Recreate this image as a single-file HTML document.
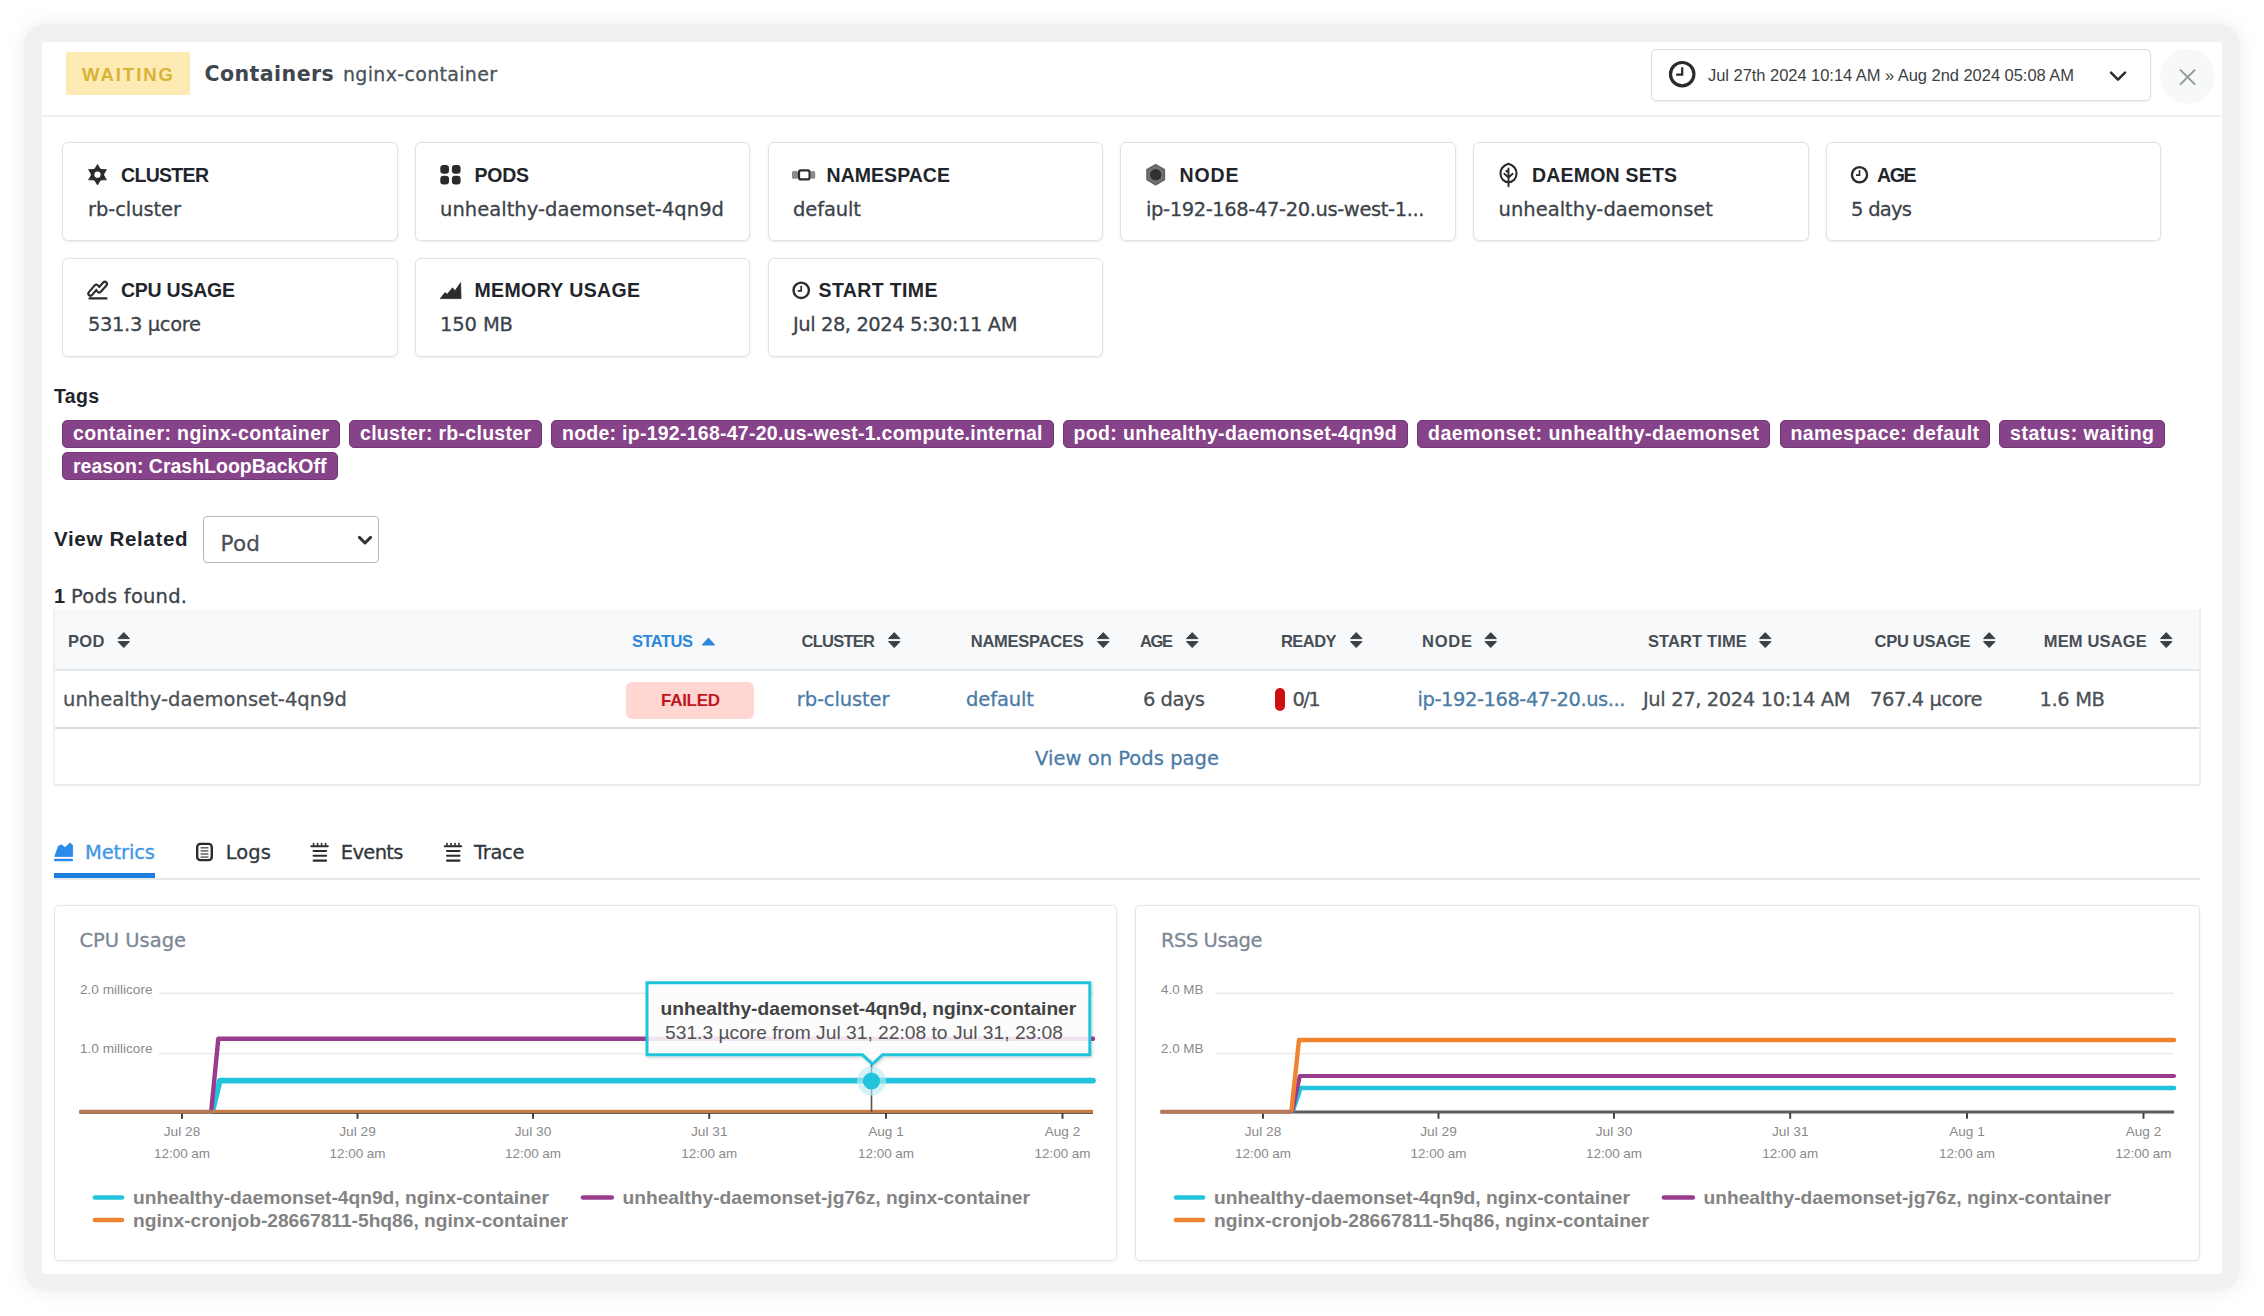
<!DOCTYPE html>
<html lang="en"><head><meta charset="utf-8"><title>Containers nginx-container</title>
<style>
html,body{margin:0;padding:0}
body{width:2264px;height:1316px;position:relative;overflow:hidden;background:#fff;font-family:"DejaVu Sans","Liberation Sans",sans-serif}
.abs,.t,.box{position:absolute}
.t{white-space:pre;line-height:1}
.frame{left:24px;top:24px;width:2215.5px;height:1267px;background:#f0f2f2;border-radius:22px;box-shadow:0 0 16px 5px rgba(100,110,110,.075)}
.panel{left:41.5px;top:42px;width:2180px;height:1232px;background:#fff;border-radius:3px}
.hline{left:42px;top:115px;width:2179px;height:2px;background:#eceeef}
.badge-wait{left:66px;top:52px;width:124px;height:43px;background:#fdebb3;border-radius:2px}
.timebox{left:1651px;top:49px;width:499.5px;height:51.5px;border:1.5px solid #dcdfe1;border-radius:5px;box-sizing:border-box;box-shadow:0 1px 2px rgba(0,0,0,.06);background:#fff}
.closebtn{left:2160px;top:49px;width:55px;height:55px;border-radius:50%;background:#f7f8f8}
.card{width:335.5px;height:99px;border:1.5px solid #dfe2e4;border-radius:6px;box-sizing:border-box;background:#fff;box-shadow:0 1px 3px rgba(0,0,0,.07)}
.tag{height:28.5px;background:#874389;border-radius:5px;border:1.6px solid #6f3a74;box-sizing:border-box}
.select{left:203px;top:516px;width:176px;height:47px;border:1.8px solid #b4b8bc;border-radius:4px;box-sizing:border-box;background:#fff}
.thead{left:54px;top:609px;width:2146px;height:60px;background:#f7f9fa}
.tline{left:54px;width:2146px;height:2px;background:#e4e7e9}
.failed{left:626px;top:682px;width:128px;height:37px;background:#ffd6d2;border-radius:6px}
.pill{left:1275px;top:687.5px;width:10px;height:23.5px;background:#cc0f0f;border-radius:5px}
.tabline{left:54px;top:878px;width:2146px;height:2px;background:#e6e8ea}
.tabactive{left:54px;top:873.3px;width:101px;height:4.8px;background:#1a7fe0}
.chartcard{top:904.5px;height:356px;border:1.5px solid #e3e5e7;border-radius:5px;box-sizing:border-box;background:#fff;box-shadow:0 1px 3px rgba(0,0,0,.06)}
svg{position:absolute;overflow:visible}

.dj{-webkit-text-stroke:0.28px currentColor}

</style></head>
<body>
<div class="box frame"></div>
<div class="box panel"></div>
<div class="box hline"></div>
<div class="box badge-wait"></div>
<div class="box timebox"></div>
<div class="box closebtn"></div>
<div class="box card" style="left:62.20px;top:142px"></div>
<div class="box card" style="left:414.95px;top:142px"></div>
<div class="box card" style="left:767.70px;top:142px"></div>
<div class="box card" style="left:1120.45px;top:142px"></div>
<div class="box card" style="left:1473.20px;top:142px"></div>
<div class="box card" style="left:1825.95px;top:142px"></div>
<div class="box card" style="left:62.20px;top:258px"></div>
<div class="box card" style="left:414.95px;top:258px"></div>
<div class="box card" style="left:767.70px;top:258px"></div>
<div class="box tag" style="left:62.0px;top:419.5px;width:278.0px"></div>
<div class="box tag" style="left:349.0px;top:419.5px;width:193.0px"></div>
<div class="box tag" style="left:551.0px;top:419.5px;width:502.5px"></div>
<div class="box tag" style="left:1062.5px;top:419.5px;width:345.2px"></div>
<div class="box tag" style="left:1417.0px;top:419.5px;width:353.0px"></div>
<div class="box tag" style="left:1779.5px;top:419.5px;width:210.5px"></div>
<div class="box tag" style="left:1999.0px;top:419.5px;width:166.0px"></div>
<div class="box tag" style="left:62.0px;top:451.8px;width:275.5px"></div>
<div class="box select"></div>
<div class="box thead"></div>
<div class="box tline" style="top:669px"></div>
<div class="box tline" style="top:727px;height:1.5px;background:#dcdfe2"></div>
<div class="box tline" style="top:784px;background:#e9ebed"></div>
<div class="box" style="left:53px;top:609px;width:1.5px;height:176px;background:#eef0f2"></div>
<div class="box" style="left:2199px;top:609px;width:1.5px;height:176px;background:#eef0f2"></div>
<div class="box failed"></div>
<div class="box pill"></div>
<div class="box tabline"></div>
<div class="box tabactive"></div>
<div class="box chartcard" style="left:54px;width:1063px"></div>
<div class="box chartcard" style="left:1135px;width:1065px"></div>
<svg class="abs" style="left:0;top:0" width="2264" height="1316" viewBox="0 0 2264 1316">
<circle cx="97.5" cy="174.7" r="4.9" fill="none" stroke="#2b2b2b" stroke-width="3.6"/>
<polygon points="100.20,169.10 97.50,164.40 94.80,169.10" fill="#2b2b2b" stroke="#2b2b2b" stroke-width="0.8" stroke-linejoin="round"/>
<polygon points="103.70,174.24 106.42,169.55 101.00,169.56" fill="#2b2b2b" stroke="#2b2b2b" stroke-width="0.8" stroke-linejoin="round"/>
<polygon points="101.00,179.84 106.42,179.85 103.70,175.16" fill="#2b2b2b" stroke="#2b2b2b" stroke-width="0.8" stroke-linejoin="round"/>
<polygon points="94.80,180.30 97.50,185.00 100.20,180.30" fill="#2b2b2b" stroke="#2b2b2b" stroke-width="0.8" stroke-linejoin="round"/>
<polygon points="91.30,175.16 88.58,179.85 94.00,179.84" fill="#2b2b2b" stroke="#2b2b2b" stroke-width="0.8" stroke-linejoin="round"/>
<polygon points="94.00,169.56 88.58,169.55 91.30,174.24" fill="#2b2b2b" stroke="#2b2b2b" stroke-width="0.8" stroke-linejoin="round"/>
<rect x="440.3" y="165.0" width="8.7" height="8.7" rx="3.2" fill="#2b2b2b"/>
<rect x="451.9" y="165.0" width="8.7" height="8.7" rx="3.2" fill="#2b2b2b"/>
<rect x="440.3" y="175.7" width="8.7" height="8.7" rx="3.2" fill="#2b2b2b"/>
<rect x="451.9" y="175.7" width="8.7" height="8.7" rx="3.2" fill="#2b2b2b"/>
<rect x="792" y="171" width="6" height="7.8" rx="1.5" fill="#8c8c8c"/>
<rect x="810.6" y="171" width="4.6" height="7.8" rx="1.5" fill="#8c8c8c"/>
<rect x="799" y="170.4" width="10.6" height="9" rx="2" fill="#fff" stroke="#2b2b2b" stroke-width="2.2"/>
<polygon points="1155.70,164.50 1164.53,169.60 1164.53,179.80 1155.70,184.90 1146.87,179.80 1146.87,169.60" fill="#707070" stroke="#5e5e5e" stroke-width="1.2" stroke-linejoin="round"/>
<circle cx="1155.7" cy="174.7" r="5.6" fill="#303030"/>
<path d="M1508.5 163.8 C1514 165.6 1516.5 169.3 1516.5 173.6 C1516.5 178.6 1513 182.3 1508.5 182.3 C1504 182.3 1500.5 178.6 1500.5 173.6 C1500.5 169.3 1503 165.6 1508.5 163.8 Z" fill="none" stroke="#2b2b2b" stroke-width="2.1" stroke-linejoin="round"/>
<path d="M1508.5 168.5 V186.3 M1508.5 177.5 L1504.3 173.8 M1508.5 177.5 L1512.7 173.8 M1508.5 172.8 L1506.3 170.8" fill="none" stroke="#2b2b2b" stroke-width="1.9" stroke-linecap="round"/>
<circle cx="1859.5" cy="174.7" r="7.6" fill="none" stroke="#2b2b2b" stroke-width="2.4"/>
<path d="M1859.5 170.2 V175.2 H1856.0" fill="none" stroke="#2b2b2b" stroke-width="1.7"/>
<circle cx="801.2" cy="290.3" r="7.7" fill="none" stroke="#2b2b2b" stroke-width="2.4"/>
<path d="M801.2 285.8 V290.8 H797.7" fill="none" stroke="#2b2b2b" stroke-width="1.7"/>
<circle cx="1682.2" cy="74.2" r="11.7" fill="none" stroke="#2b2b2b" stroke-width="3.2"/>
<path d="M1682.2 67.2 V74.7 H1676.2" fill="none" stroke="#2b2b2b" stroke-width="2.2"/>
<polyline points="90.5,293.5 96.3,286.8 99.2,290.3 104.8,284" fill="none" stroke="#2b2b2b" stroke-width="6.4" stroke-linecap="round" stroke-linejoin="round"/>
<polyline points="90.5,293.5 96.3,286.8 99.2,290.3 104.8,284" fill="none" stroke="#fff" stroke-width="2.2" stroke-linecap="round" stroke-linejoin="round"/>
<path d="M89.5 298.4 H106.5" stroke="#2b2b2b" stroke-width="2.2" stroke-linecap="round"/>
<polygon points="440.3,298.6 445,292.6 447.2,294.3 452.6,287.8 455,290.8 460.6,282.7 461,298.6" fill="#2b2b2b" stroke="#2b2b2b" stroke-width="0.8" stroke-linejoin="round"/>
<path d="M2111 72.6 L2118 79.6 L2125 72.6" fill="none" stroke="#2b2b2b" stroke-width="2.5" stroke-linecap="round" stroke-linejoin="round"/>
<path d="M2180.6 70.2 L2194.6 84.2 M2194.6 70.2 L2180.6 84.2" fill="none" stroke="#92979b" stroke-width="1.9" stroke-linecap="round"/>
<path d="M359.4 537.4 L365 543 L370.6 537.4" fill="none" stroke="#333" stroke-width="3" stroke-linecap="round" stroke-linejoin="round"/>
<path d="M118.0 638.6 L123.8 632.6 L129.5 638.6 Z M118.0 641.6 L123.8 647.6 L129.5 641.6 Z" fill="#3a4047" stroke="#3a4047" stroke-width="1" stroke-linejoin="round"/>
<path d="M888.5 638.6 L894.2 632.6 L900.0 638.6 Z M888.5 641.6 L894.2 647.6 L900.0 641.6 Z" fill="#3a4047" stroke="#3a4047" stroke-width="1" stroke-linejoin="round"/>
<path d="M1097.5 638.6 L1103.2 632.6 L1109.0 638.6 Z M1097.5 641.6 L1103.2 647.6 L1109.0 641.6 Z" fill="#3a4047" stroke="#3a4047" stroke-width="1" stroke-linejoin="round"/>
<path d="M1186.5 638.6 L1192.2 632.6 L1198.0 638.6 Z M1186.5 641.6 L1192.2 647.6 L1198.0 641.6 Z" fill="#3a4047" stroke="#3a4047" stroke-width="1" stroke-linejoin="round"/>
<path d="M1350.5 638.6 L1356.2 632.6 L1362.0 638.6 Z M1350.5 641.6 L1356.2 647.6 L1362.0 641.6 Z" fill="#3a4047" stroke="#3a4047" stroke-width="1" stroke-linejoin="round"/>
<path d="M1485.0 638.6 L1490.8 632.6 L1496.5 638.6 Z M1485.0 641.6 L1490.8 647.6 L1496.5 641.6 Z" fill="#3a4047" stroke="#3a4047" stroke-width="1" stroke-linejoin="round"/>
<path d="M1759.5 638.6 L1765.2 632.6 L1771.0 638.6 Z M1759.5 641.6 L1765.2 647.6 L1771.0 641.6 Z" fill="#3a4047" stroke="#3a4047" stroke-width="1" stroke-linejoin="round"/>
<path d="M1983.5 638.6 L1989.2 632.6 L1995.0 638.6 Z M1983.5 641.6 L1989.2 647.6 L1995.0 641.6 Z" fill="#3a4047" stroke="#3a4047" stroke-width="1" stroke-linejoin="round"/>
<path d="M2160.5 638.6 L2166.2 632.6 L2172.0 638.6 Z M2160.5 641.6 L2166.2 647.6 L2172.0 641.6 Z" fill="#3a4047" stroke="#3a4047" stroke-width="1" stroke-linejoin="round"/>
<path d="M702.6 644.9 L708.5 638.3 L714.4 644.9 Z" fill="#2c87d8" stroke="#2c87d8" stroke-width="1.2" stroke-linejoin="round"/>
<path d="M54.8 856.5 L58.3 846.3 L61.5 844.8 L65 847.6 L70 842.9 L72.6 845.2 L72.6 856.5 Z" fill="#2b8be8" stroke="#2b8be8" stroke-width="0.8" stroke-linejoin="round"/>
<rect x="54" y="858.8" width="19" height="2.5" rx="1" fill="#2b8be8"/>
<rect x="197.2" y="843.9" width="14.6" height="16.2" rx="3.2" fill="none" stroke="#2b2b2b" stroke-width="2.4"/>
<path d="M200.6 847.8 H208.4" stroke="#555" stroke-width="1.4"/>
<path d="M200.6 850.9 H208.4" stroke="#555" stroke-width="1.4"/>
<path d="M200.6 854.0 H208.4" stroke="#555" stroke-width="1.4"/>
<path d="M200.6 857.1 H208.4" stroke="#555" stroke-width="1.4"/>
<path d="M311.4 846.2 H327.8" stroke="#2b2b2b" stroke-width="2.05" stroke-linecap="round"/>
<path d="M313.6 843.6 V845" stroke="#2b2b2b" stroke-width="1.6" stroke-linecap="round"/>
<path d="M317.6 843.6 V845" stroke="#2b2b2b" stroke-width="1.6" stroke-linecap="round"/>
<path d="M321.6 843.6 V845" stroke="#2b2b2b" stroke-width="1.6" stroke-linecap="round"/>
<path d="M325.6 843.6 V845" stroke="#2b2b2b" stroke-width="1.6" stroke-linecap="round"/>
<path d="M313.6 851.0 H326.1" stroke="#2b2b2b" stroke-width="2.05" stroke-linecap="round"/>
<path d="M313.6 855.8 H326.1" stroke="#2b2b2b" stroke-width="2.05" stroke-linecap="round"/>
<path d="M313.6 860.6 H326.1" stroke="#2b2b2b" stroke-width="2.05" stroke-linecap="round"/>
<path d="M444.8 846.2 H461.2" stroke="#2b2b2b" stroke-width="2.05" stroke-linecap="round"/>
<path d="M447.0 843.6 V845" stroke="#2b2b2b" stroke-width="1.6" stroke-linecap="round"/>
<path d="M451.0 843.6 V845" stroke="#2b2b2b" stroke-width="1.6" stroke-linecap="round"/>
<path d="M455.0 843.6 V845" stroke="#2b2b2b" stroke-width="1.6" stroke-linecap="round"/>
<path d="M459.0 843.6 V845" stroke="#2b2b2b" stroke-width="1.6" stroke-linecap="round"/>
<path d="M447.0 851.0 H459.5" stroke="#2b2b2b" stroke-width="2.05" stroke-linecap="round"/>
<path d="M447.0 855.8 H459.5" stroke="#2b2b2b" stroke-width="2.05" stroke-linecap="round"/>
<path d="M447.0 860.6 H459.5" stroke="#2b2b2b" stroke-width="2.05" stroke-linecap="round"/>
</svg>
<!-- text layer -->
<span class="t" style="left:82.00px;top:65.50px;font-family:'Liberation Sans', 'DejaVu Sans', sans-serif;font-weight:700;font-size:18.5px;letter-spacing:1.977px;color:#d8b335;">WAITING</span>
<span class="t" style="left:204.50px;top:63.75px;font-family:'DejaVu Sans', 'Liberation Sans', sans-serif;font-weight:700;font-size:20.5px;letter-spacing:0.450px;color:#40464d;">Containers</span>
<span class="t dj" style="left:343.00px;top:64.75px;font-family:'DejaVu Sans', 'Liberation Sans', sans-serif;font-weight:400;font-size:19px;letter-spacing:0.317px;color:#4a5158;">nginx-container</span>
<span class="t" style="left:1708.00px;top:67.00px;font-family:'Liberation Sans', 'DejaVu Sans', sans-serif;font-weight:400;font-size:16.5px;letter-spacing:-0.042px;color:#3c3f42;">Jul 27th 2024 10:14 AM » Aug 2nd 2024 05:08 AM</span>
<span class="t" style="left:121.00px;top:166.00px;font-family:'Liberation Sans', 'DejaVu Sans', sans-serif;font-weight:700;font-size:19.5px;letter-spacing:-0.682px;color:#1f252b;">CLUSTER</span>
<span class="t dj" style="left:88.00px;top:199.50px;font-family:'DejaVu Sans', 'Liberation Sans', sans-serif;font-weight:400;font-size:19.5px;letter-spacing:-0.083px;color:#3b4249;">rb-cluster</span>
<span class="t" style="left:474.50px;top:166.00px;font-family:'Liberation Sans', 'DejaVu Sans', sans-serif;font-weight:700;font-size:19.5px;letter-spacing:-0.255px;color:#1f252b;">PODS</span>
<span class="t dj" style="left:440.00px;top:199.50px;font-family:'DejaVu Sans', 'Liberation Sans', sans-serif;font-weight:400;font-size:19.5px;letter-spacing:0.039px;color:#3b4249;">unhealthy-daemonset-4qn9d</span>
<span class="t" style="left:826.50px;top:166.00px;font-family:'Liberation Sans', 'DejaVu Sans', sans-serif;font-weight:700;font-size:19.5px;letter-spacing:0.043px;color:#1f252b;">NAMESPACE</span>
<span class="t dj" style="left:793.00px;top:199.50px;font-family:'DejaVu Sans', 'Liberation Sans', sans-serif;font-weight:400;font-size:19.5px;letter-spacing:-0.104px;color:#3b4249;">default</span>
<span class="t" style="left:1179.50px;top:166.00px;font-family:'Liberation Sans', 'DejaVu Sans', sans-serif;font-weight:700;font-size:19.5px;letter-spacing:0.885px;color:#1f252b;">NODE</span>
<span class="t dj" style="left:1146.00px;top:199.50px;font-family:'DejaVu Sans', 'Liberation Sans', sans-serif;font-weight:400;font-size:19.5px;letter-spacing:-0.395px;color:#3b4249;">ip-192-168-47-20.us-west-1...</span>
<span class="t" style="left:1532.00px;top:166.00px;font-family:'Liberation Sans', 'DejaVu Sans', sans-serif;font-weight:700;font-size:19.5px;letter-spacing:0.198px;color:#1f252b;">DAEMON SETS</span>
<span class="t dj" style="left:1498.50px;top:199.50px;font-family:'DejaVu Sans', 'Liberation Sans', sans-serif;font-weight:400;font-size:19.5px;letter-spacing:0.023px;color:#3b4249;">unhealthy-daemonset</span>
<span class="t" style="left:1877.00px;top:166.00px;font-family:'Liberation Sans', 'DejaVu Sans', sans-serif;font-weight:700;font-size:19.5px;letter-spacing:-1.383px;color:#1f252b;">AGE</span>
<span class="t dj" style="left:1851.00px;top:199.50px;font-family:'DejaVu Sans', 'Liberation Sans', sans-serif;font-weight:400;font-size:19.5px;letter-spacing:-0.728px;color:#3b4249;">5 days</span>
<span class="t" style="left:121.00px;top:281.00px;font-family:'Liberation Sans', 'DejaVu Sans', sans-serif;font-weight:700;font-size:19.5px;letter-spacing:-0.242px;color:#1f252b;">CPU USAGE</span>
<span class="t dj" style="left:88.00px;top:315.00px;font-family:'DejaVu Sans', 'Liberation Sans', sans-serif;font-weight:400;font-size:19.5px;letter-spacing:-0.367px;color:#3b4249;">531.3 µcore</span>
<span class="t" style="left:474.50px;top:281.00px;font-family:'Liberation Sans', 'DejaVu Sans', sans-serif;font-weight:700;font-size:19.5px;letter-spacing:0.369px;color:#1f252b;">MEMORY USAGE</span>
<span class="t dj" style="left:440.00px;top:315.00px;font-family:'DejaVu Sans', 'Liberation Sans', sans-serif;font-weight:400;font-size:19.5px;letter-spacing:-0.125px;color:#3b4249;">150 MB</span>
<span class="t" style="left:818.50px;top:281.00px;font-family:'Liberation Sans', 'DejaVu Sans', sans-serif;font-weight:700;font-size:19.5px;letter-spacing:0.384px;color:#1f252b;">START TIME</span>
<span class="t dj" style="left:793.00px;top:315.00px;font-family:'DejaVu Sans', 'Liberation Sans', sans-serif;font-weight:400;font-size:19.5px;letter-spacing:-0.445px;color:#3b4249;">Jul 28, 2024 5:30:11 AM</span>
<span class="t" style="left:54.00px;top:387.00px;font-family:'Liberation Sans', 'DejaVu Sans', sans-serif;font-weight:700;font-size:19.5px;letter-spacing:0.307px;color:#1f252b;">Tags</span>
<span class="t" style="left:73.00px;top:424.00px;font-family:'Liberation Sans', 'DejaVu Sans', sans-serif;font-weight:700;font-size:19.5px;letter-spacing:0.402px;color:#ffffff;">container: nginx-container</span>
<span class="t" style="left:360.00px;top:424.00px;font-family:'Liberation Sans', 'DejaVu Sans', sans-serif;font-weight:700;font-size:19.5px;letter-spacing:0.288px;color:#ffffff;">cluster: rb-cluster</span>
<span class="t" style="left:562.00px;top:424.00px;font-family:'Liberation Sans', 'DejaVu Sans', sans-serif;font-weight:700;font-size:19.5px;letter-spacing:0.258px;color:#ffffff;">node: ip-192-168-47-20.us-west-1.compute.internal</span>
<span class="t" style="left:1073.50px;top:424.00px;font-family:'Liberation Sans', 'DejaVu Sans', sans-serif;font-weight:700;font-size:19.5px;letter-spacing:0.348px;color:#ffffff;">pod: unhealthy-daemonset-4qn9d</span>
<span class="t" style="left:1428.00px;top:424.00px;font-family:'Liberation Sans', 'DejaVu Sans', sans-serif;font-weight:700;font-size:19.5px;letter-spacing:0.504px;color:#ffffff;">daemonset: unhealthy-daemonset</span>
<span class="t" style="left:1790.50px;top:424.00px;font-family:'Liberation Sans', 'DejaVu Sans', sans-serif;font-weight:700;font-size:19.5px;letter-spacing:0.379px;color:#ffffff;">namespace: default</span>
<span class="t" style="left:2010.00px;top:424.00px;font-family:'Liberation Sans', 'DejaVu Sans', sans-serif;font-weight:700;font-size:19.5px;letter-spacing:0.535px;color:#ffffff;">status: waiting</span>
<span class="t" style="left:73.00px;top:456.50px;font-family:'Liberation Sans', 'DejaVu Sans', sans-serif;font-weight:700;font-size:19.5px;letter-spacing:-0.003px;color:#ffffff;">reason: CrashLoopBackOff</span>
<span class="t" style="left:54.00px;top:529.00px;font-family:'Liberation Sans', 'DejaVu Sans', sans-serif;font-weight:700;font-size:20.5px;letter-spacing:0.673px;color:#1f252b;">View Related</span>
<span class="t dj" style="left:220.50px;top:532.50px;font-family:'DejaVu Sans', 'Liberation Sans', sans-serif;font-weight:400;font-size:21.5px;letter-spacing:0.242px;color:#4a4f55;">Pod</span>
<span class="t" style="left:54.00px;top:585.50px;font-family:'Liberation Sans', 'DejaVu Sans', sans-serif;font-weight:700;font-size:20px;letter-spacing:-1.125px;color:#1f252b;">1</span>
<span class="t dj" style="left:71.00px;top:586.50px;font-family:'DejaVu Sans', 'Liberation Sans', sans-serif;font-weight:400;font-size:19.5px;letter-spacing:0.217px;color:#3b4249;">Pods found.</span>
<span class="t" style="left:68.00px;top:633.00px;font-family:'Liberation Sans', 'DejaVu Sans', sans-serif;font-weight:700;font-size:16.5px;letter-spacing:0.367px;color:#474d54;">POD</span>
<span class="t" style="left:632.00px;top:633.00px;font-family:'Liberation Sans', 'DejaVu Sans', sans-serif;font-weight:700;font-size:16.5px;letter-spacing:-0.512px;color:#2c87d8;">STATUS</span>
<span class="t" style="left:801.50px;top:633.00px;font-family:'Liberation Sans', 'DejaVu Sans', sans-serif;font-weight:700;font-size:16.5px;letter-spacing:-0.737px;color:#474d54;">CLUSTER</span>
<span class="t" style="left:970.75px;top:633.00px;font-family:'Liberation Sans', 'DejaVu Sans', sans-serif;font-weight:700;font-size:16.5px;letter-spacing:-0.247px;color:#474d54;">NAMESPACES</span>
<span class="t" style="left:1140.00px;top:633.00px;font-family:'Liberation Sans', 'DejaVu Sans', sans-serif;font-weight:700;font-size:16.5px;letter-spacing:-1.383px;color:#474d54;">AGE</span>
<span class="t" style="left:1281.00px;top:633.00px;font-family:'Liberation Sans', 'DejaVu Sans', sans-serif;font-weight:700;font-size:16.5px;letter-spacing:-0.566px;color:#474d54;">READY</span>
<span class="t" style="left:1422.00px;top:633.00px;font-family:'Liberation Sans', 'DejaVu Sans', sans-serif;font-weight:700;font-size:16.5px;letter-spacing:0.776px;color:#474d54;">NODE</span>
<span class="t" style="left:1648.00px;top:633.00px;font-family:'Liberation Sans', 'DejaVu Sans', sans-serif;font-weight:700;font-size:16.5px;letter-spacing:0.108px;color:#474d54;">START TIME</span>
<span class="t" style="left:1874.50px;top:633.00px;font-family:'Liberation Sans', 'DejaVu Sans', sans-serif;font-weight:700;font-size:16.5px;letter-spacing:-0.264px;color:#474d54;">CPU USAGE</span>
<span class="t" style="left:2043.75px;top:633.00px;font-family:'Liberation Sans', 'DejaVu Sans', sans-serif;font-weight:700;font-size:16.5px;letter-spacing:0.154px;color:#474d54;">MEM USAGE</span>
<span class="t dj" style="left:63.00px;top:690.00px;font-family:'DejaVu Sans', 'Liberation Sans', sans-serif;font-weight:400;font-size:19.5px;letter-spacing:0.039px;color:#4a5056;">unhealthy-daemonset-4qn9d</span>
<span class="t" style="left:661.00px;top:692.00px;font-family:'Liberation Sans', 'DejaVu Sans', sans-serif;font-weight:700;font-size:17px;letter-spacing:-0.291px;color:#c2161f;">FAILED</span>
<span class="t dj" style="left:796.75px;top:690.00px;font-family:'DejaVu Sans', 'Liberation Sans', sans-serif;font-weight:400;font-size:19.5px;letter-spacing:-0.111px;color:#4a7ba7;">rb-cluster</span>
<span class="t dj" style="left:966.00px;top:690.00px;font-family:'DejaVu Sans', 'Liberation Sans', sans-serif;font-weight:400;font-size:19.5px;letter-spacing:-0.104px;color:#4a7ba7;">default</span>
<span class="t dj" style="left:1143.00px;top:690.00px;font-family:'DejaVu Sans', 'Liberation Sans', sans-serif;font-weight:400;font-size:19.5px;letter-spacing:-0.528px;color:#4a5056;">6 days</span>
<span class="t dj" style="left:1292.50px;top:690.00px;font-family:'DejaVu Sans', 'Liberation Sans', sans-serif;font-weight:400;font-size:19.5px;letter-spacing:-1.570px;color:#4a5056;">0/1</span>
<span class="t dj" style="left:1417.50px;top:690.00px;font-family:'DejaVu Sans', 'Liberation Sans', sans-serif;font-weight:400;font-size:19.5px;letter-spacing:-0.444px;color:#4a7ba7;">ip-192-168-47-20.us...</span>
<span class="t dj" style="left:1643.00px;top:690.00px;font-family:'DejaVu Sans', 'Liberation Sans', sans-serif;font-weight:400;font-size:19.5px;letter-spacing:-0.391px;color:#4a5056;">Jul 27, 2024 10:14 AM</span>
<span class="t dj" style="left:1870.00px;top:690.00px;font-family:'DejaVu Sans', 'Liberation Sans', sans-serif;font-weight:400;font-size:19.5px;letter-spacing:-0.417px;color:#4a5056;">767.4 µcore</span>
<span class="t dj" style="left:2039.50px;top:690.00px;font-family:'DejaVu Sans', 'Liberation Sans', sans-serif;font-weight:400;font-size:19.5px;letter-spacing:-0.384px;color:#4a5056;">1.6 MB</span>
<span class="t dj" style="left:1035.00px;top:748.50px;font-family:'DejaVu Sans', 'Liberation Sans', sans-serif;font-weight:400;font-size:19.5px;letter-spacing:0.037px;color:#4a7ba7;">View on Pods page</span>
<span class="t dj" style="left:85.00px;top:842.75px;font-family:'DejaVu Sans', 'Liberation Sans', sans-serif;font-weight:400;font-size:19.5px;letter-spacing:-0.133px;color:#3d94e6;">Metrics</span>
<span class="t dj" style="left:225.75px;top:842.75px;font-family:'DejaVu Sans', 'Liberation Sans', sans-serif;font-weight:400;font-size:19.5px;letter-spacing:0.017px;color:#30363c;">Logs</span>
<span class="t dj" style="left:340.80px;top:842.75px;font-family:'DejaVu Sans', 'Liberation Sans', sans-serif;font-weight:400;font-size:19.5px;letter-spacing:-0.666px;color:#30363c;">Events</span>
<span class="t dj" style="left:473.90px;top:842.75px;font-family:'DejaVu Sans', 'Liberation Sans', sans-serif;font-weight:400;font-size:19.5px;letter-spacing:-0.284px;color:#30363c;">Trace</span>
<span class="t dj" style="left:79.50px;top:930.80px;font-family:'DejaVu Sans', 'Liberation Sans', sans-serif;font-weight:400;font-size:19.5px;letter-spacing:-0.014px;color:#7b8794;">CPU Usage</span>
<span class="t dj" style="left:1161.00px;top:930.80px;font-family:'DejaVu Sans', 'Liberation Sans', sans-serif;font-weight:400;font-size:19.5px;letter-spacing:-0.471px;color:#7b8794;">RSS Usage</span>
<!-- charts -->
<svg class="abs" style="left:0;top:0" width="2264" height="1316" viewBox="0 0 2264 1316">
<defs><filter id="tts" x="-5%" y="-20%" width="110%" height="150%"><feDropShadow dx="1" dy="1.5" stdDeviation="1.5" flood-color="#000" flood-opacity="0.18"/></filter></defs>
<path d="M159.0 993.2 H1093.0" stroke="#e9e9e9" stroke-width="1.4"/>
<path d="M159.0 1053.6 H1093.0" stroke="#e9e9e9" stroke-width="1.4"/>
<text x="80.00" y="994.00" textLength="72.50" lengthAdjust="spacingAndGlyphs" font-family="Liberation Sans, Arial, sans-serif" font-size="13.5" font-weight="400" fill="#8a8a8a" text-anchor="start">2.0 millicore</text>
<text x="80.00" y="1053.00" textLength="72.50" lengthAdjust="spacingAndGlyphs" font-family="Liberation Sans, Arial, sans-serif" font-size="13.5" font-weight="400" fill="#8a8a8a" text-anchor="start">1.0 millicore</text>
<path d="M79.5 1112 H1093.0" stroke="#5c5c5c" stroke-width="3.8"/>
<path d="M182.0 1113 V1118.8" stroke="#444" stroke-width="2"/>
<text x="182.00" y="1136.00" textLength="36.50" lengthAdjust="spacingAndGlyphs" font-family="Liberation Sans, Arial, sans-serif" font-size="13.5" font-weight="400" fill="#8a8a8a" text-anchor="middle">Jul 28</text>
<text x="182.00" y="1157.50" textLength="56.00" lengthAdjust="spacingAndGlyphs" font-family="Liberation Sans, Arial, sans-serif" font-size="13.5" font-weight="400" fill="#8a8a8a" text-anchor="middle">12:00 am</text>
<path d="M357.5 1113 V1118.8" stroke="#444" stroke-width="2"/>
<text x="357.50" y="1136.00" textLength="36.50" lengthAdjust="spacingAndGlyphs" font-family="Liberation Sans, Arial, sans-serif" font-size="13.5" font-weight="400" fill="#8a8a8a" text-anchor="middle">Jul 29</text>
<text x="357.50" y="1157.50" textLength="56.00" lengthAdjust="spacingAndGlyphs" font-family="Liberation Sans, Arial, sans-serif" font-size="13.5" font-weight="400" fill="#8a8a8a" text-anchor="middle">12:00 am</text>
<path d="M533.0 1113 V1118.8" stroke="#444" stroke-width="2"/>
<text x="533.00" y="1136.00" textLength="36.50" lengthAdjust="spacingAndGlyphs" font-family="Liberation Sans, Arial, sans-serif" font-size="13.5" font-weight="400" fill="#8a8a8a" text-anchor="middle">Jul 30</text>
<text x="533.00" y="1157.50" textLength="56.00" lengthAdjust="spacingAndGlyphs" font-family="Liberation Sans, Arial, sans-serif" font-size="13.5" font-weight="400" fill="#8a8a8a" text-anchor="middle">12:00 am</text>
<path d="M709.2 1113 V1118.8" stroke="#444" stroke-width="2"/>
<text x="709.25" y="1136.00" textLength="36.50" lengthAdjust="spacingAndGlyphs" font-family="Liberation Sans, Arial, sans-serif" font-size="13.5" font-weight="400" fill="#8a8a8a" text-anchor="middle">Jul 31</text>
<text x="709.25" y="1157.50" textLength="56.00" lengthAdjust="spacingAndGlyphs" font-family="Liberation Sans, Arial, sans-serif" font-size="13.5" font-weight="400" fill="#8a8a8a" text-anchor="middle">12:00 am</text>
<path d="M886.0 1113 V1118.8" stroke="#444" stroke-width="2"/>
<text x="886.00" y="1136.00" textLength="35.50" lengthAdjust="spacingAndGlyphs" font-family="Liberation Sans, Arial, sans-serif" font-size="13.5" font-weight="400" fill="#8a8a8a" text-anchor="middle">Aug 1</text>
<text x="886.00" y="1157.50" textLength="56.00" lengthAdjust="spacingAndGlyphs" font-family="Liberation Sans, Arial, sans-serif" font-size="13.5" font-weight="400" fill="#8a8a8a" text-anchor="middle">12:00 am</text>
<path d="M1062.5 1113 V1118.8" stroke="#444" stroke-width="2"/>
<text x="1062.50" y="1136.00" textLength="35.50" lengthAdjust="spacingAndGlyphs" font-family="Liberation Sans, Arial, sans-serif" font-size="13.5" font-weight="400" fill="#8a8a8a" text-anchor="middle">Aug 2</text>
<text x="1062.50" y="1157.50" textLength="56.00" lengthAdjust="spacingAndGlyphs" font-family="Liberation Sans, Arial, sans-serif" font-size="13.5" font-weight="400" fill="#8a8a8a" text-anchor="middle">12:00 am</text>
<polyline points="212.6,1110.2 219.8,1080.6 1093.0,1080.6" fill="none" stroke="#22c4dc" stroke-width="5.8" stroke-linejoin="round" stroke-linecap="round"/>
<polyline points="211.3,1110.2 218.3,1038.8 1093.0,1038.8" fill="none" stroke="#9a3c8e" stroke-width="4.4" stroke-linejoin="round" stroke-linecap="round"/>
<path d="M79.5 1111.8 H212.5" stroke="#b9775a" stroke-width="4"/>
<path d="M212.5 1111.4 H1093.0" stroke="#d9813f" stroke-width="3.2" opacity="0.85"/>
<path d="M95.0 1197.5 H122.0" stroke="#22c4dc" stroke-width="4.6" stroke-linecap="round"/>
<text x="133.00" y="1204.00" textLength="416.00" lengthAdjust="spacingAndGlyphs" font-family="Liberation Sans, Arial, sans-serif" font-size="19" font-weight="700" fill="#838383" text-anchor="start">unhealthy-daemonset-4qn9d, nginx-container</text>
<path d="M583.0 1197.5 H611.8" stroke="#9a3c8e" stroke-width="4.6" stroke-linecap="round"/>
<text x="622.50" y="1204.00" textLength="407.50" lengthAdjust="spacingAndGlyphs" font-family="Liberation Sans, Arial, sans-serif" font-size="19" font-weight="700" fill="#838383" text-anchor="start">unhealthy-daemonset-jg76z, nginx-container</text>
<path d="M95.0 1220.0 H122.0" stroke="#f0832f" stroke-width="4.6" stroke-linecap="round"/>
<text x="133.00" y="1226.50" textLength="435.00" lengthAdjust="spacingAndGlyphs" font-family="Liberation Sans, Arial, sans-serif" font-size="19" font-weight="700" fill="#838383" text-anchor="start">nginx-cronjob-28667811-5hq86, nginx-container</text>
<path d="M871.5 1058 V1112" stroke="#555" stroke-width="1.6"/>
<circle cx="871.5" cy="1081" r="14.5" fill="#ffffff" opacity="0.55"/>
<circle cx="871.5" cy="1081" r="14.5" fill="#22c4dc" opacity="0.2"/>
<circle cx="871.5" cy="1081" r="8.6" fill="#22c4dc"/>
<path d="M647 982.8 H1089.8 V1054.8 H882.5 L872.5 1064 L862.5 1054.8 H647 Z" fill="#ffffff" fill-opacity="0.86" stroke="#22c4dc" stroke-width="3" stroke-linejoin="miter" filter="url(#tts)"/>
<text x="660.50" y="1014.50" textLength="415.75" lengthAdjust="spacingAndGlyphs" font-family="Liberation Sans, Arial, sans-serif" font-size="19" font-weight="700" fill="#424242" text-anchor="start">unhealthy-daemonset-4qn9d, nginx-container</text>
<text x="665.00" y="1038.75" textLength="398.00" lengthAdjust="spacingAndGlyphs" font-family="Liberation Sans, Arial, sans-serif" font-size="19" font-weight="400" fill="#525252" text-anchor="start">531.3 µcore from Jul 31, 22:08 to Jul 31, 23:08</text>
<path d="M1215.0 993.2 H2174.0" stroke="#e9e9e9" stroke-width="1.4"/>
<path d="M1215.0 1053.6 H2174.0" stroke="#e9e9e9" stroke-width="1.4"/>
<text x="1161.00" y="994.00" textLength="42.50" lengthAdjust="spacingAndGlyphs" font-family="Liberation Sans, Arial, sans-serif" font-size="13.5" font-weight="400" fill="#8a8a8a" text-anchor="start">4.0 MB</text>
<text x="1161.00" y="1053.00" textLength="42.50" lengthAdjust="spacingAndGlyphs" font-family="Liberation Sans, Arial, sans-serif" font-size="13.5" font-weight="400" fill="#8a8a8a" text-anchor="start">2.0 MB</text>
<path d="M1160.5 1112 H2174.0" stroke="#5c5c5c" stroke-width="3.0"/>
<path d="M1263.0 1113 V1118.8" stroke="#444" stroke-width="2"/>
<text x="1263.00" y="1136.00" textLength="36.50" lengthAdjust="spacingAndGlyphs" font-family="Liberation Sans, Arial, sans-serif" font-size="13.5" font-weight="400" fill="#8a8a8a" text-anchor="middle">Jul 28</text>
<text x="1263.00" y="1157.50" textLength="56.00" lengthAdjust="spacingAndGlyphs" font-family="Liberation Sans, Arial, sans-serif" font-size="13.5" font-weight="400" fill="#8a8a8a" text-anchor="middle">12:00 am</text>
<path d="M1438.5 1113 V1118.8" stroke="#444" stroke-width="2"/>
<text x="1438.50" y="1136.00" textLength="36.50" lengthAdjust="spacingAndGlyphs" font-family="Liberation Sans, Arial, sans-serif" font-size="13.5" font-weight="400" fill="#8a8a8a" text-anchor="middle">Jul 29</text>
<text x="1438.50" y="1157.50" textLength="56.00" lengthAdjust="spacingAndGlyphs" font-family="Liberation Sans, Arial, sans-serif" font-size="13.5" font-weight="400" fill="#8a8a8a" text-anchor="middle">12:00 am</text>
<path d="M1614.0 1113 V1118.8" stroke="#444" stroke-width="2"/>
<text x="1614.00" y="1136.00" textLength="36.50" lengthAdjust="spacingAndGlyphs" font-family="Liberation Sans, Arial, sans-serif" font-size="13.5" font-weight="400" fill="#8a8a8a" text-anchor="middle">Jul 30</text>
<text x="1614.00" y="1157.50" textLength="56.00" lengthAdjust="spacingAndGlyphs" font-family="Liberation Sans, Arial, sans-serif" font-size="13.5" font-weight="400" fill="#8a8a8a" text-anchor="middle">12:00 am</text>
<path d="M1790.2 1113 V1118.8" stroke="#444" stroke-width="2"/>
<text x="1790.25" y="1136.00" textLength="36.50" lengthAdjust="spacingAndGlyphs" font-family="Liberation Sans, Arial, sans-serif" font-size="13.5" font-weight="400" fill="#8a8a8a" text-anchor="middle">Jul 31</text>
<text x="1790.25" y="1157.50" textLength="56.00" lengthAdjust="spacingAndGlyphs" font-family="Liberation Sans, Arial, sans-serif" font-size="13.5" font-weight="400" fill="#8a8a8a" text-anchor="middle">12:00 am</text>
<path d="M1967.0 1113 V1118.8" stroke="#444" stroke-width="2"/>
<text x="1967.00" y="1136.00" textLength="35.50" lengthAdjust="spacingAndGlyphs" font-family="Liberation Sans, Arial, sans-serif" font-size="13.5" font-weight="400" fill="#8a8a8a" text-anchor="middle">Aug 1</text>
<text x="1967.00" y="1157.50" textLength="56.00" lengthAdjust="spacingAndGlyphs" font-family="Liberation Sans, Arial, sans-serif" font-size="13.5" font-weight="400" fill="#8a8a8a" text-anchor="middle">12:00 am</text>
<path d="M2143.5 1113 V1118.8" stroke="#444" stroke-width="2"/>
<text x="2143.50" y="1136.00" textLength="35.50" lengthAdjust="spacingAndGlyphs" font-family="Liberation Sans, Arial, sans-serif" font-size="13.5" font-weight="400" fill="#8a8a8a" text-anchor="middle">Aug 2</text>
<text x="2143.50" y="1157.50" textLength="56.00" lengthAdjust="spacingAndGlyphs" font-family="Liberation Sans, Arial, sans-serif" font-size="13.5" font-weight="400" fill="#8a8a8a" text-anchor="middle">12:00 am</text>
<polyline points="1293.0,1110.2 1300.5,1088.0 2174.0,1088.0" fill="none" stroke="#22c4dc" stroke-width="4.6" stroke-linejoin="round" stroke-linecap="round"/>
<polyline points="1292.5,1110.2 1299.8,1076.0 2174.0,1076.0" fill="none" stroke="#9a3c8e" stroke-width="4.2" stroke-linejoin="round" stroke-linecap="round"/>
<polyline points="1291.5,1110.2 1299.0,1040.0 2174.0,1040.0" fill="none" stroke="#f0832f" stroke-width="4.4" stroke-linejoin="round" stroke-linecap="round"/>
<path d="M1160.5 1111.8 H1291.5" stroke="#b9775a" stroke-width="4"/>
<path d="M1176.0 1197.5 H1203.0" stroke="#22c4dc" stroke-width="4.6" stroke-linecap="round"/>
<text x="1214.00" y="1204.00" textLength="416.00" lengthAdjust="spacingAndGlyphs" font-family="Liberation Sans, Arial, sans-serif" font-size="19" font-weight="700" fill="#838383" text-anchor="start">unhealthy-daemonset-4qn9d, nginx-container</text>
<path d="M1664.0 1197.5 H1692.8" stroke="#9a3c8e" stroke-width="4.6" stroke-linecap="round"/>
<text x="1703.50" y="1204.00" textLength="407.50" lengthAdjust="spacingAndGlyphs" font-family="Liberation Sans, Arial, sans-serif" font-size="19" font-weight="700" fill="#838383" text-anchor="start">unhealthy-daemonset-jg76z, nginx-container</text>
<path d="M1176.0 1220.0 H1203.0" stroke="#f0832f" stroke-width="4.6" stroke-linecap="round"/>
<text x="1214.00" y="1226.50" textLength="435.00" lengthAdjust="spacingAndGlyphs" font-family="Liberation Sans, Arial, sans-serif" font-size="19" font-weight="700" fill="#838383" text-anchor="start">nginx-cronjob-28667811-5hq86, nginx-container</text>
</svg>
</body></html>
